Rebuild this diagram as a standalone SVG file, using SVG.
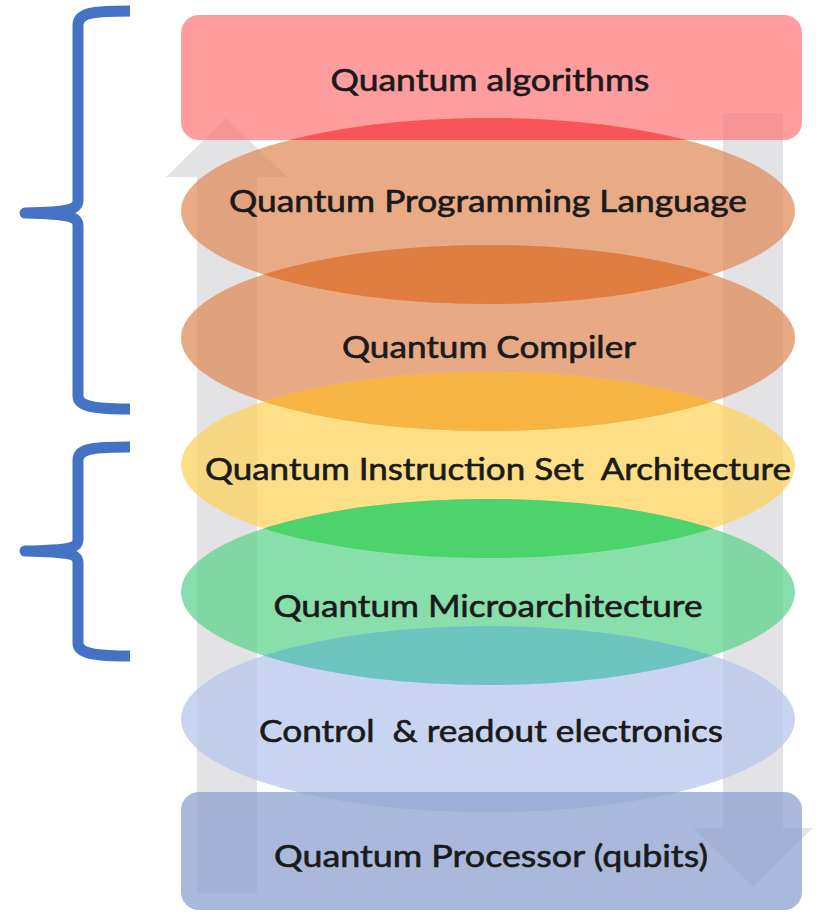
<svg xmlns="http://www.w3.org/2000/svg" width="818" height="912" viewBox="0 0 818 912">
  <style>
    .lbl { font-family: Lato, "Liberation Sans", "DejaVu Sans", sans-serif; font-size: 30px; fill: #1a1a1a; stroke: #1a1a1a; stroke-width: 0.6; text-anchor: middle; white-space: pre; }
    .flow { fill: #e3e3e6; }
    .brace { fill: none; stroke: #4472c4; stroke-width: 11; stroke-linecap: butt; stroke-linejoin: round; }
    .layer { fill-opacity: 0.72; }
  </style>
  <defs>
    <clipPath id="clip-top"><rect x="181" y="15" width="621" height="125" rx="18"/></clipPath>
    <clipPath id="clip-e1"><ellipse cx="488" cy="211" rx="307" ry="93"/></clipPath>
    <clipPath id="clip-e2"><ellipse cx="488" cy="338" rx="307" ry="93"/></clipPath>
    <clipPath id="clip-e3"><ellipse cx="488" cy="465" rx="307" ry="93"/></clipPath>
    <clipPath id="clip-e4"><ellipse cx="488" cy="592" rx="307" ry="93"/></clipPath>
    <clipPath id="clip-e5"><ellipse cx="488" cy="719" rx="307" ry="93"/></clipPath>
  </defs>

  <rect width="818" height="912" fill="#ffffff"/>

  <!-- grouping braces -->
  <g id="braces">
    <path class="brace" d="M130,11 C96,11 78,12 78,25 L78,200 C78,209 72,212 25,213 C72,214 78,217 78,226 L78,396 C78,407 96,409 130,409"/>
    <path class="brace" d="M130,447 C96,447 78,448 78,460 L78,539 C78,548 72,550 25,551 C72,552 78,554 78,563 L78,643 C78,654 96,656 130,656"/>
  </g>

  <!-- upward and downward flow arrows behind the stack -->
  <g id="connectors">
    <polygon class="flow" points="226,118 287,177 257,177 257,893 197,893 197,177 166,177"/>
    <polygon class="flow" points="723,113 783,113 783,828 813,828 753,887 693,828 723,828"/>
  </g>

  <g id="node-algorithms">
    <rect class="layer" x="181" y="15" width="621" height="125" rx="18" fill="#ff7679"/>
    <text class="lbl" x="490" y="91" textLength="319" lengthAdjust="spacingAndGlyphs">Quantum algorithms</text>
  </g>

  <g id="node-language">
    <ellipse class="layer" cx="488" cy="211" rx="307" ry="93" fill="#e08b57"/>
    <ellipse cx="488" cy="211" rx="307" ry="93" fill="#f95458" clip-path="url(#clip-top)"/>
    <text class="lbl" x="488" y="212" textLength="518" lengthAdjust="spacingAndGlyphs">Quantum Programming Language</text>
  </g>

  <g id="node-compiler">
    <ellipse class="layer" cx="488" cy="338" rx="307" ry="93" fill="#df8955"/>
    <ellipse cx="488" cy="338" rx="307" ry="93" fill="#e07e42" clip-path="url(#clip-e1)"/>
    <text class="lbl" x="489" y="358" textLength="294" lengthAdjust="spacingAndGlyphs">Quantum Compiler</text>
  </g>

  <g id="node-isa">
    <ellipse class="layer" cx="488" cy="465" rx="307" ry="93" fill="#fed35a"/>
    <ellipse cx="488" cy="465" rx="307" ry="93" fill="#f6b443" clip-path="url(#clip-e2)"/>
    <text class="lbl" x="498" y="480" textLength="586" lengthAdjust="spacingAndGlyphs" xml:space="preserve">Quantum Instruction Set  Architecture</text>
  </g>

  <g id="node-microarchitecture">
    <ellipse class="layer" cx="488" cy="592" rx="307" ry="93" fill="#5cd38b"/>
    <ellipse cx="488" cy="592" rx="307" ry="93" fill="#4cd36c" clip-path="url(#clip-e3)"/>
    <text class="lbl" x="488" y="617" textLength="429" lengthAdjust="spacingAndGlyphs">Quantum Microarchitecture</text>
  </g>

  <g id="node-electronics">
    <ellipse class="layer" cx="488" cy="719" rx="307" ry="93" fill="#b4c5ea"/>
    <ellipse cx="488" cy="719" rx="307" ry="93" fill="#6ec5c0" clip-path="url(#clip-e4)"/>
    <text class="lbl" x="491" y="742" textLength="464" lengthAdjust="spacingAndGlyphs" xml:space="preserve">Control  &amp; readout electronics</text>
  </g>

  <g id="node-processor">
    <rect class="layer" x="181" y="792" width="621" height="118" rx="18" fill="#899ecd"/>
    <rect x="181" y="792" width="621" height="118" rx="18" fill="#9fb0d8" clip-path="url(#clip-e5)"/>
    <text class="lbl" x="491" y="867" textLength="434" lengthAdjust="spacingAndGlyphs">Quantum Processor (qubits)</text>
  </g>
</svg>
